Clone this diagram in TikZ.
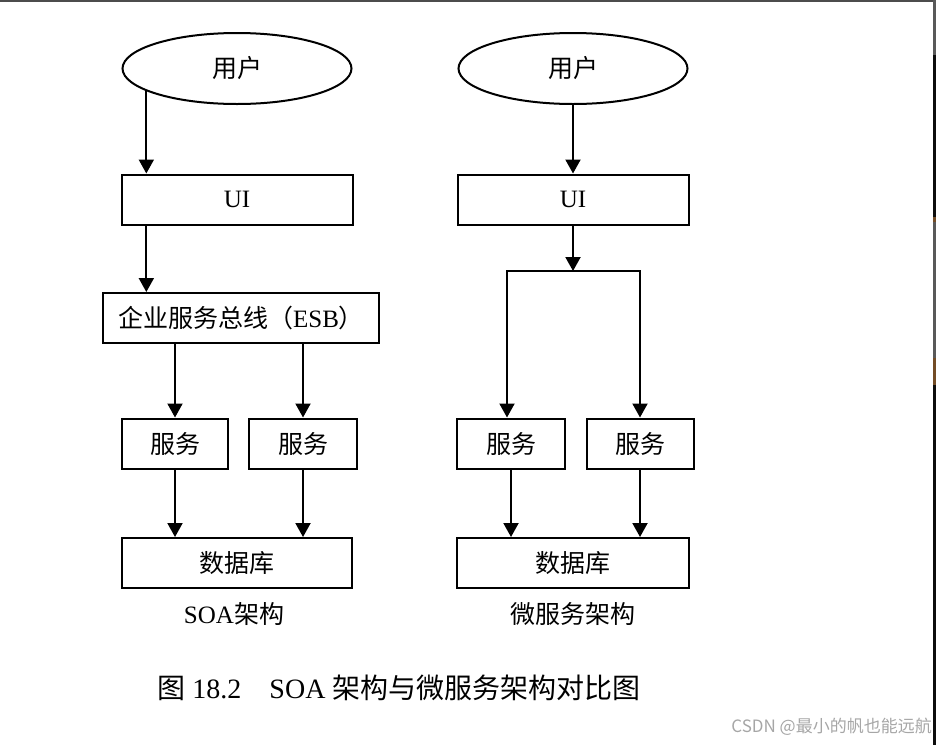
\documentclass[tikz,border=0pt]{standalone}
\usepackage{fontspec}
\setmainfont{Liberation Serif}
\newfontfamily\cjk{Noto Sans CJK SC}
\usetikzlibrary{shapes.geometric,arrows.meta}

\begin{document}
\begin{tikzpicture}[x=1pt,y=-1pt,
    box/.style={draw,line width=2pt,inner sep=0pt,minimum height=50pt,font=\fontsize{25}{29}\selectfont},
    user/.style={box,ellipse,minimum width=229pt,minimum height=71pt},
    arr/.style={line width=2pt,-{Triangle[width=15pt,length=14pt]}},
    arrtwo/.style={line width=2pt,{Triangle[width=15pt,length=14pt]}-{Triangle[width=15pt,length=14pt]}},
    caption/.style={inner sep=0pt,font=\fontsize{25}{29}\selectfont}]
    %frame
    \useasboundingbox (0,0) rectangle (936,745);
    \fill[black!70] (0,0) rectangle (933,1.5);
    \fill[black!65] (933,0) rectangle (936,55);
    \fill[black!95] (933,55) rectangle (936,217);
    \fill[black!65] (933,222) rectangle (936,358);
    \fill[black!95] (933,385) rectangle (936,745);
    \fill[brown!60!black] (933,217) rectangle (936,222);
    \fill[brown!60!black] (933,358) rectangle (936,385);

    %SOA
    \node[user] (user1) at (237,68.5) {\cjk 用户};
    \node[box,minimum width=231pt] (ui1) at (237,199.5) {UI};
    \node[box,minimum width=276pt] (esb) at (241,318) {{\cjk 企业服务总线（}ESB{\cjk ）}};
    \node[box,minimum width=106pt] (svcA) at (175,443.5) {\cjk 服务};
    \node[box,minimum width=108pt] (svcB) at (303,443.5) {\cjk 服务};
    \node[box,minimum width=230pt] (db1) at (237,563) {\cjk 数据库};
    \node[caption] (cap1) at (234,614) {SOA{\cjk 架构}};

    \draw[arr] (user1.194) -- (user1.194 |- ui1.north);
    \draw[arr] (user1.194 |- ui1.south) -- (user1.194 |- esb.north);
    \draw[arr] (svcA.north |- esb.south) -- (svcA.north);
    \draw[arr] (svcB.north |- esb.south) -- (svcB.north);
    \draw[arr] (svcA.south) -- (svcA.south |- db1.north);
    \draw[arr] (svcB.south) -- (svcB.south |- db1.north);

    %microservices
    \node[user] (user2) at (573,68.5) {\cjk 用户};
    \node[box,minimum width=231pt] (ui2) at (573,199.5) {UI};
    \node[box,minimum width=108pt] (svcC) at (511,443.5) {\cjk 服务};
    \node[box,minimum width=107pt] (svcD) at (640,443.5) {\cjk 服务};
    \node[box,minimum width=232pt] (db2) at (573,563) {\cjk 数据库};
    \node[caption] (cap2) at (573,614) {\cjk 微服务架构};
    \coordinate (forkL) at (507,271);
    \coordinate (forkR) at (640,271);

    \draw[arr] (user2.south) -- (user2.south |- ui2.north);
    \draw[arr] (ui2.south) -- (ui2.south |- forkL);
    \draw[arrtwo] (forkL |- svcC.north) -- (forkL) -- (forkR) -- (forkR |- svcD.north);
    \draw[arr] (svcC.south) -- (svcC.south |- db2.north);
    \draw[arr] (svcD.south) -- (svcD.south |- db2.north);

    \node[inner sep=0pt,font=\fontsize{28}{32}\selectfont] (title) at (399,688) {{\cjk 图}~18.2\hspace{1em}SOA~{\cjk 架构与微服务架构对比图}};
    \node[inner sep=0pt,anchor=east,text=black!35,font=\cjk\fontsize{17}{20}\selectfont] (mark) at (932,727) {CSDN @最小的帆也能远航};
\end{tikzpicture}
\end{document}
